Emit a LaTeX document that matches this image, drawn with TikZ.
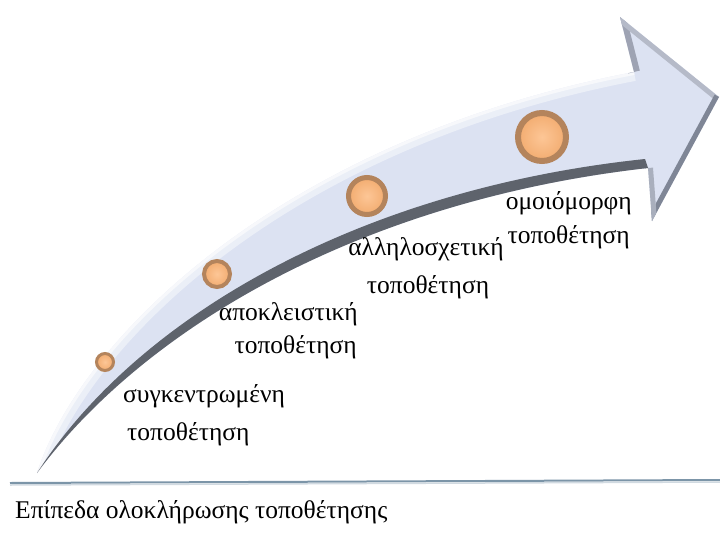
\documentclass[tikz,border=0pt]{standalone}
\usepackage{fontspec}
\setmainfont{Liberation Serif}
\usetikzlibrary{calc}
\definecolor{bodyc}{RGB}{220,226,242}
\definecolor{bandc}{RGB}{94,99,108}
\definecolor{bevA}{RGB}{158,163,179}
\definecolor{bevB}{RGB}{181,186,200}
\definecolor{bevC}{RGB}{127,134,150}
\definecolor{bevD}{RGB}{169,175,189}
\definecolor{ringc}{RGB}{180,132,92}
\definecolor{peachA}{RGB}{253,198,150}
\definecolor{peachB}{RGB}{242,172,112}
\definecolor{linec}{RGB}{124,149,168}
\begin{document}
\begin{tikzpicture}[x=1pt,y=-1pt,
  ball/.style={circle, inner sep=0pt, draw=ringc, inner color=peachA, outer color=peachB},
  lbl/.style={font=\fontsize{25.5}{30}\selectfont, inner sep=0pt, text=black}]
\useasboundingbox (0,0) rectangle (720,533);
\fill[white] (0,0) rectangle (720,533);
% arrow body
\fill[bodyc] (37,473) .. controls (80,340) and (280,140) .. (634,72) -- (620,17) -- (719,97) -- (652,221) -- (648,168) .. controls (364,200) and (146,326) .. (37,473) -- cycle;
\begin{scope}
  \clip (37,473) .. controls (80,340) and (280,140) .. (634,72) -- (620,17) -- (719,97) -- (652,221) -- (648,168) .. controls (364,200) and (146,326) .. (37,473) -- cycle;
  % highlight along the upper edge
  \draw[white, opacity=0.45, line width=18] (37,473) .. controls (80,340) and (280,140) .. (634,72);
  \draw[white, opacity=0.6, line width=6] (37,473) .. controls (80,340) and (280,140) .. (634,72);
  % head bevels
  \draw[bevA, line width=12] (634,72) -- (620,17);
  \draw[bevB, line width=10] (620,17) -- (719,97);
  \draw[bevC, line width=10] (719,97) -- (652,221);
  \draw[bevD, line width=10] (652,221) -- (648,168);
\end{scope}
% dark lower band
\fill[bandc] (37,473) .. controls (138,316) and (360,189) .. (645,159) -- (648,168) .. controls (364,200) and (146,326) .. (37,473) -- cycle;
% balls
\node[ball, minimum size=17pt, line width=3pt] (c1) at (105,362) {};
\node[ball, minimum size=26pt, line width=4pt] (c2) at (217,274) {};
\node[ball, minimum size=37pt, line width=5pt] (c3) at (367,196) {};
\node[ball, minimum size=48pt, line width=6pt] (c4) at (542,137) {};
% labels
\node[lbl, anchor=base west] (t1a) at (123,402) {συγκεντρωμένη};
\node[lbl, anchor=base west] (t1b) at (127,440) {τοποθέτηση};
\node[lbl, anchor=base east] (t2a) at (358,320) {αποκλειστική};
\node[lbl, anchor=base east] (t2b) at (357,353) {τοποθέτηση};
\node[lbl, anchor=base] (t3a) at (426,255) {αλληλοσχετική};
\node[lbl, anchor=base] (t3b) at (428,293) {τοποθέτηση};
\node[lbl, anchor=base east] (t4a) at (632,209) {ομοιόμορφη};
\node[lbl, anchor=base east] (t4b) at (630,243) {τοποθέτηση};
% baseline rule
\coordinate (l1) at (10,483);
\coordinate (l2) at (720,480);
\draw[linec, line width=2pt] (l1) -- (l2);
\draw[linec!35, line width=1.5pt] ($(l1)+(0,2)$) -- ($(l2)+(0,2)$);
\node[lbl, anchor=base west] (cap) at (15,518) {Επίπεδα ολοκλήρωσης τοποθέτησης};
\end{tikzpicture}
\end{document}
